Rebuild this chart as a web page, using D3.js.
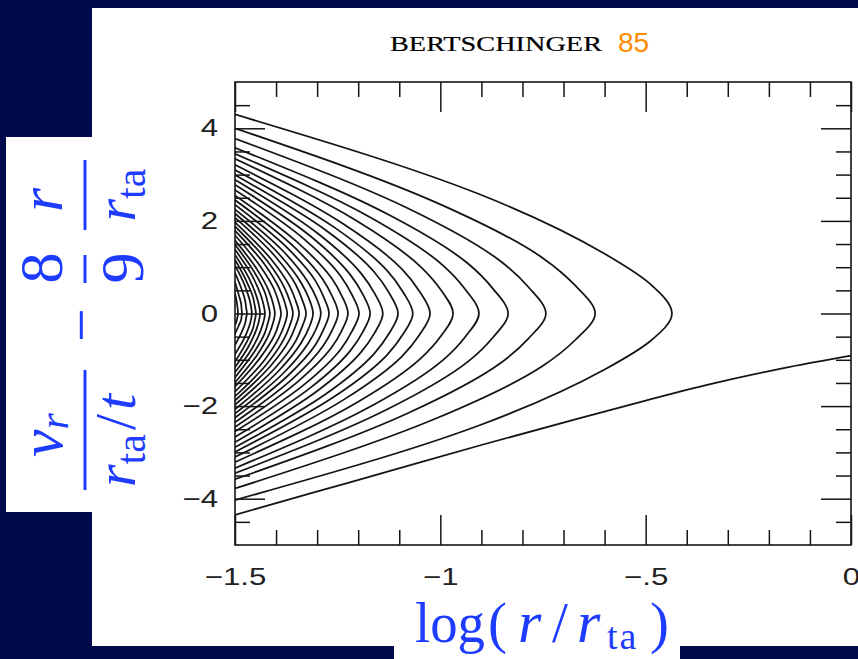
<!DOCTYPE html>
<html><head><meta charset="utf-8">
<script src="https://cdn.jsdelivr.net/npm/d3@7"></script>
<style>html,body{margin:0;padding:0;background:#020a4e;overflow:hidden}</style>
</head><body>
<svg id="c" width="858" height="659"></svg>
<script>
// ---------- data ----------
const xDomain = [-1.5, 0];
const yDomain = [-5, 5];
const xMajorTicks = [-1.5, -1, -0.5, 0];
const xTickLabels = ["−1.5", "−1", "−.5", "0"];
const xMinorTicks = [-1.4, -1.3, -1.2, -1.1, -0.9, -0.8, -0.7, -0.6, -0.4, -0.3, -0.2, -0.1];
const yMajorTicks = [-4, -2, 0, 2, 4];
const yTickLabels = ["−4", "−2", "0", "2", "4"];
const yMinorTicks = [-4.5, -3.5, -3, -2.5, -1.5, -1, -0.5, 0.5, 1, 1.5, 2.5, 3, 3.5, 4.5];

// nested orbit loops: left-edge crossings, turnaround (vertex) x, and x at 60% / 30% / 15% of the height
const loopVertexX = [-0.436,-0.623,-0.743,-0.835,-0.906,-0.969,-1.025,-1.067,-1.103,-1.140,-1.171,-1.198,-1.225,-1.249,-1.271,-1.291,-1.310,-1.327,-1.344,-1.359,-1.373,-1.388,-1.403,-1.415,-1.427,-1.439,-1.449,-1.459,-1.471,-1.483,-1.493];
const loopTopY = [4.30,4.00,3.78,3.58,3.45,3.34,3.21,3.10,2.99,2.89,2.78,2.67,2.55,2.45,2.35,2.25,2.16,2.07,1.97,1.88,1.79,1.69,1.58,1.49,1.38,1.27,1.16,1.04,0.88,0.68,0.44];
const loopBottomY = [-4.03,-3.78,-3.58,-3.45,-3.34,-3.21,-3.10,-2.99,-2.89,-2.78,-2.67,-2.55,-2.45,-2.35,-2.25,-2.16,-2.07,-1.97,-1.88,-1.79,-1.69,-1.58,-1.49,-1.38,-1.27,-1.16,-1.04,-0.88,-0.68,-0.44,-0.26];
const loopOuterX = [-0.906,-1.011,-1.078,-1.129,-1.169,-1.204,-1.235,-1.258,-1.278,-1.299,-1.316,-1.331,-1.347,-1.360,-1.372,-1.383,-1.394,-1.403,-1.413,-1.421,-1.429,-1.438,-1.446,-1.453,-1.459,-1.466,-1.472,-1.477,-1.484,-1.491,-1.496];
const loopInnerX = [-0.600,-0.751,-0.854,-0.932,-0.993,-1.047,-1.094,-1.130,-1.161,-1.193,-1.219,-1.242,-1.265,-1.286,-1.304,-1.322,-1.338,-1.352,-1.367,-1.380,-1.392,-1.404,-1.417,-1.427,-1.438,-1.448,-1.456,-1.465,-1.475,-1.485,-1.494];
const loopTipX = [-0.490,-0.671,-0.785,-0.872,-0.939,-0.998,-1.051,-1.091,-1.125,-1.160,-1.189,-1.215,-1.240,-1.263,-1.284,-1.302,-1.320,-1.337,-1.353,-1.367,-1.380,-1.394,-1.408,-1.420,-1.431,-1.442,-1.452,-1.461,-1.473,-1.484,-1.493];
const loopLevels = [1, 0.6, 0.3, 0.15, 0];

// infall stream
const infallX = [-1.5, -1.31, -1.15, -0.9, -0.66, -0.5, -0.34, -0.17, 0];
const infallY = [-4.35, -3.87, -3.47, -2.84, -2.26, -1.88, -1.52, -1.19, -0.91];

// ---------- drawing ----------
const navy = "#020a4e", blue = "#1e3cff", ink = "#141414";
const svg = d3.select("#c");
svg.append("rect").attr("width", 858).attr("height", 659).attr("fill", navy);
svg.append("rect").attr("x", 92).attr("y", 8).attr("width", 770).attr("height", 638).attr("fill", "#fff");
svg.append("rect").attr("x", 6).attr("y", 137).attr("width", 90).attr("height", 375).attr("fill", "#fff");
svg.append("rect").attr("x", 394).attr("y", 600).attr("width", 286).attr("height", 60).attr("fill", "#fff");

const x = d3.scaleLinear().domain(xDomain).range([235, 851]);
const y = d3.scaleLinear().domain(yDomain).range([545, 82]);

svg.append("clipPath").attr("id", "clip").append("rect")
  .attr("x", 235).attr("y", 82).attr("width", 616).attr("height", 463);

const loopLine = d3.line().x(d => x(d[0])).y(d => y(d[1])).curve(d3.curveMonotoneY);
const infallLine = d3.line().x(d => x(d[0])).y(d => y(d[1])).curve(d3.curveMonotoneX);
const curves = svg.append("g").attr("clip-path", "url(#clip)")
  .attr("fill", "none").attr("stroke", ink).attr("stroke-width", 1.75);

loopVertexX.forEach((vx, i) => {
  const T = loopTopY[i], B = loopBottomY[i];
  const xs = [xDomain[0], loopOuterX[i], loopInnerX[i], loopTipX[i], vx];
  const pts = [];
  loopLevels.forEach((l, k) => pts.push([xs[k], l * T]));
  for (let k = loopLevels.length - 2; k >= 0; k--) pts.push([xs[k], loopLevels[k] * B]);
  curves.append("path").attr("d", loopLine(pts));
});
curves.append("path").attr("d", infallLine(infallX.map((v, i) => [v, infallY[i]])));

// frame
svg.append("rect").attr("x", 235).attr("y", 82).attr("width", 616).attr("height", 463)
  .attr("fill", "none").attr("stroke", ink).attr("stroke-width", 1.6);

function styleAxis(g) {
  g.select(".domain").remove();
  g.selectAll(".tick line").attr("stroke", ink).attr("stroke-width", 1.5);
  g.attr("font-family", "'Liberation Sans', Arial, sans-serif").attr("font-size", 24).attr("fill", ink);
  g.selectAll(".tick text").attr("fill", "#222").each(function () {
    const w = this.getComputedTextLength();
    d3.select(this).attr("textLength", w * 1.3).attr("lengthAdjust", "spacingAndGlyphs");
  });
}
const axes = [
  [d3.axisBottom(x).tickValues(xMinorTicks).tickSize(-15).tickFormat(""), 0, 545],
  [d3.axisBottom(x).tickValues(xMajorTicks).tickSize(-30).tickPadding(23).tickFormat((d, i) => xTickLabels[i]), 0, 545],
  [d3.axisTop(x).tickValues(xMinorTicks).tickSize(-15).tickFormat(""), 0, 82],
  [d3.axisTop(x).tickValues(xMajorTicks).tickSize(-30).tickFormat(""), 0, 82],
  [d3.axisLeft(y).tickValues(yMinorTicks).tickSize(-15).tickFormat(""), 235, 0],
  [d3.axisLeft(y).tickValues(yMajorTicks).tickSize(-30).tickPadding(17).tickFormat((d, i) => yTickLabels[i]), 235, 0],
  [d3.axisRight(y).tickValues(yMinorTicks).tickSize(-15).tickFormat(""), 851, 0],
  [d3.axisRight(y).tickValues(yMajorTicks).tickSize(-30).tickFormat(""), 851, 0]
];
axes.forEach(([ax, tx, ty]) => {
  svg.append("g").attr("transform", `translate(${tx},${ty})`).call(ax).call(styleAxis);
});

// title
svg.append("text").attr("x", 390).attr("y", 51).attr("font-family", "'Liberation Serif', 'Times New Roman', serif")
  .attr("font-size", 22).attr("fill", "#000").attr("stroke", "#000").attr("stroke-width", 0.2)
  .attr("textLength", 212).attr("lengthAdjust", "spacingAndGlyphs")
  .text("BERTSCHINGER");
svg.append("text").attr("x", 618).attr("y", 52).attr("font-family", "'Liberation Sans', Arial, sans-serif")
  .attr("font-size", 28).attr("fill", "#ff8a00").text("85");

// x label
const serif = "'Liberation Serif', 'Times New Roman', serif";
const xl = svg.append("text").attr("y", 642).attr("font-family", serif)
  .attr("font-size", 57).attr("fill", blue);
xl.append("tspan").attr("x", 415).attr("textLength", 70).attr("lengthAdjust", "spacingAndGlyphs").text("log");
xl.append("tspan").attr("x", 488).text("(");
xl.append("tspan").attr("x", 518).attr("font-style", "italic").attr("font-size", 60).text("r");
xl.append("tspan").attr("x", 552).text("/");
xl.append("tspan").attr("x", 577).attr("font-style", "italic").attr("font-size", 60).text("r");
xl.append("tspan").attr("x", 607).attr("font-size", 38).attr("dy", 7).attr("letter-spacing", 2).text("ta");
xl.append("tspan").attr("x", 650).attr("dy", -7).text(")");

// y label (rotated)
const yl = svg.append("g").attr("transform", "translate(85,325) rotate(-90)")
  .attr("font-family", serif).attr("fill", blue);
function frac(u0, u1) {
  yl.append("line").attr("x1", u0).attr("x2", u1).attr("y1", 0).attr("y2", 0)
    .attr("stroke", blue).attr("stroke-width", 3);
}
let t;
t = yl.append("text").attr("x", -110).attr("y", -23).attr("text-anchor", "middle").attr("font-size", 62);
t.append("tspan").attr("font-style", "italic").text("v");
t.append("tspan").attr("font-style", "italic").attr("font-size", 42).attr("dy", 6).text("r");
frac(-165, -45);
t = yl.append("text").attr("x", -162).attr("y", 50).attr("font-size", 58);
t.append("tspan").attr("font-style", "italic").text("r");
t.append("tspan").attr("font-size", 42).attr("dy", 10).text("ta");
t.append("tspan").attr("dy", -10).attr("dx", 4).text("/");
t.append("tspan").attr("font-style", "italic").attr("dx", 4).text("t");
yl.append("text").attr("x", 0).attr("y", 16).attr("text-anchor", "middle").attr("font-size", 60).text("−");
yl.append("text").attr("x", 57).attr("y", -23).attr("text-anchor", "middle").attr("font-size", 62).text("8");
frac(42, 70);
yl.append("text").attr("x", 57).attr("y", 58).attr("text-anchor", "middle").attr("font-size", 62).text("9");
yl.append("text").attr("x", 125).attr("y", -23).attr("text-anchor", "middle").attr("font-size", 62)
  .attr("font-style", "italic").text("r");
frac(95, 165);
t = yl.append("text").attr("x", 130).attr("y", 50).attr("text-anchor", "middle").attr("font-size", 58);
t.append("tspan").attr("font-style", "italic").text("r");
t.append("tspan").attr("font-size", 42).attr("dy", 10).text("ta");
</script>
</body></html>
